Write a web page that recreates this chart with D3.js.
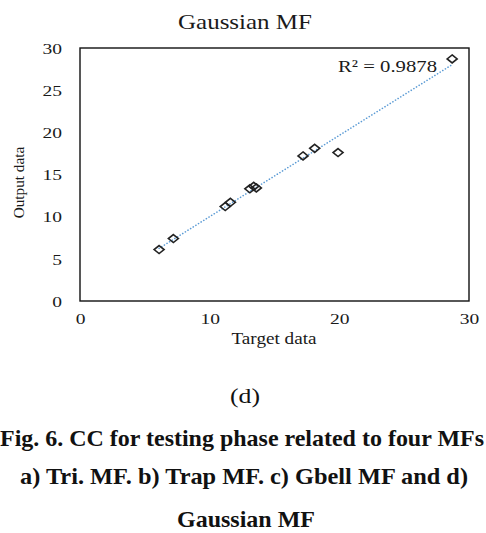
<!DOCTYPE html>
<html>
<head>
<meta charset="utf-8">
<script src="https://cdn.jsdelivr.net/npm/d3@7"></script>
<style>
  html, body { margin: 0; padding: 0; background: #fff; }
  svg { display: block; }
</style>
</head>
<body>
<svg id="chart" width="486" height="533"></svg>
<script>
// Target vs. output values for the testing phase (Gaussian MF)
const targetValues = [6.1, 7.2, 11.2, 11.6, 13.1, 13.4, 13.6, 17.2, 18.1, 19.9, 28.7];
const outputValues = [6.1, 7.4, 11.2, 11.7, 13.3, 13.6, 13.4, 17.2, 18.1, 17.6, 28.7];
const xTicks = [0, 10, 20, 30];
const yTicks = [0, 5, 10, 15, 20, 25, 30];
const r2Label = "R² = 0.9878";
const chartTitle = "Gaussian MF";
const xLabel = "Target data";
const yLabel = "Output data";
const panelLabel = "(d)";
const captionLines = [
  "Fig. 6. CC for testing phase related to four MFs",
  "a) Tri. MF. b) Trap MF. c) Gbell MF and d)",
  "Gaussian MF"
];

const svg = d3.select("#chart");
const serif = "'Liberation Serif', 'Times New Roman', serif";
const ink = "#1a1a1a";

// The chart artwork is drawn slightly wide; stretch a text node horizontally.
function widen(sel, factor) {
  sel.each(function () {
    const len = this.getComputedTextLength();
    d3.select(this).attr("textLength", len * factor).attr("lengthAdjust", "spacingAndGlyphs");
  });
}
function fitTo(sel, length) {
  sel.attr("textLength", length).attr("lengthAdjust", "spacingAndGlyphs");
}

const plot = { left: 80, right: 469, top: 48, bottom: 301 };
const x = d3.scaleLinear().domain([0, 30]).range([plot.left, plot.right]);
const y = d3.scaleLinear().domain([0, 30]).range([plot.bottom, plot.top]);

// Title
svg.append("text")
  .attr("x", 245).attr("y", 29)
  .attr("text-anchor", "middle")
  .attr("font-family", serif).attr("font-size", 21.5)
  .attr("fill", ink)
  .text(chartTitle)
  .call(fitTo, 134);

// Axes (labels only, no tick marks)
const xAxis = svg.append("g")
  .attr("transform", `translate(0,${plot.bottom})`)
  .call(d3.axisBottom(x).tickValues(xTicks).tickSize(0).tickPadding(0));
const yAxis = svg.append("g")
  .attr("transform", `translate(${plot.left},0)`)
  .call(d3.axisLeft(y).tickValues(yTicks).tickSize(0).tickPadding(18));
[xAxis, yAxis].forEach(g => {
  g.select(".domain").remove();
  g.selectAll("text")
    .attr("font-family", serif).attr("font-size", 15)
    .attr("fill", ink);
});
xAxis.selectAll("text").attr("dy", null).attr("y", 23);
yAxis.selectAll("text").attr("dy", null).attr("y", 5.3);
widen(xAxis.selectAll("text"), 1.3);
widen(yAxis.selectAll("text"), 1.3);

// Plot frame
svg.append("rect")
  .attr("x", plot.left).attr("y", plot.top)
  .attr("width", plot.right - plot.left).attr("height", plot.bottom - plot.top)
  .attr("fill", "none").attr("stroke", "#111").attr("stroke-width", 1.4);

// Linear trendline (least squares) over the data range
const n = targetValues.length;
const mx = d3.mean(targetValues), my = d3.mean(outputValues);
let sxy = 0, sxx = 0;
for (let i = 0; i < n; i++) {
  sxy += (targetValues[i] - mx) * (outputValues[i] - my);
  sxx += (targetValues[i] - mx) ** 2;
}
const slope = sxy / sxx, intercept = my - slope * mx;
const x0 = d3.min(targetValues), x1 = d3.max(targetValues);
svg.append("line")
  .attr("x1", x(x0)).attr("y1", y(slope * x0 + intercept))
  .attr("x2", x(x1)).attr("y2", y(slope * x1 + intercept))
  .attr("stroke", "#5b9bd5").attr("stroke-width", 1.6)
  .attr("stroke-dasharray", "0.1 3").attr("stroke-linecap", "round");

// Diamond markers, a little wider than tall
const wideDiamond = {
  draw(context, size) {
    const w = Math.sqrt(size) / 2, h = w * 0.8;
    context.moveTo(0, -h);
    context.lineTo(w, 0);
    context.lineTo(0, h);
    context.lineTo(-w, 0);
    context.closePath();
  }
};
svg.append("g").selectAll("path")
  .data(targetValues.map((t, i) => [t, outputValues[i]]))
  .join("path")
  .attr("d", d3.symbol().type(wideDiamond).size(100)())
  .attr("transform", d => `translate(${x(d[0])},${y(d[1])})`)
  .attr("fill", "none").attr("stroke", "#222").attr("stroke-width", 1.6);

// R² annotation
svg.append("text")
  .attr("x", 338).attr("y", 72)
  .attr("font-family", serif).attr("font-size", 17)
  .attr("fill", ink)
  .text(r2Label)
  .call(fitTo, 99);

// Axis titles
svg.append("text")
  .attr("x", 274).attr("y", 344)
  .attr("text-anchor", "middle")
  .attr("font-family", serif).attr("font-size", 16)
  .attr("fill", ink)
  .text(xLabel)
  .call(fitTo, 85);
svg.append("text")
  .attr("transform", `translate(24,182.5) rotate(-90)`)
  .attr("text-anchor", "middle")
  .attr("font-family", serif).attr("font-size", 15)
  .attr("fill", ink)
  .text(yLabel)
  .call(fitTo, 71.5);

// Panel label and figure caption
svg.append("text")
  .attr("x", 245).attr("y", 403)
  .attr("text-anchor", "middle")
  .attr("font-family", serif).attr("font-size", 22)
  .attr("fill", "#111")
  .text(panelLabel)
  .call(fitTo, 30);

const captionY = [446, 484, 527];
const captionX = [242, 244, 246];
const captionW = [484, 448, 138];
captionLines.forEach((line, i) => {
  svg.append("text")
    .attr("x", captionX[i]).attr("y", captionY[i])
    .attr("text-anchor", "middle")
    .attr("font-family", serif).attr("font-size", 24)
    .attr("font-weight", "bold")
    .attr("fill", "#111")
    .text(line)
    .call(fitTo, captionW[i]);
});
</script>
</body>
</html>
